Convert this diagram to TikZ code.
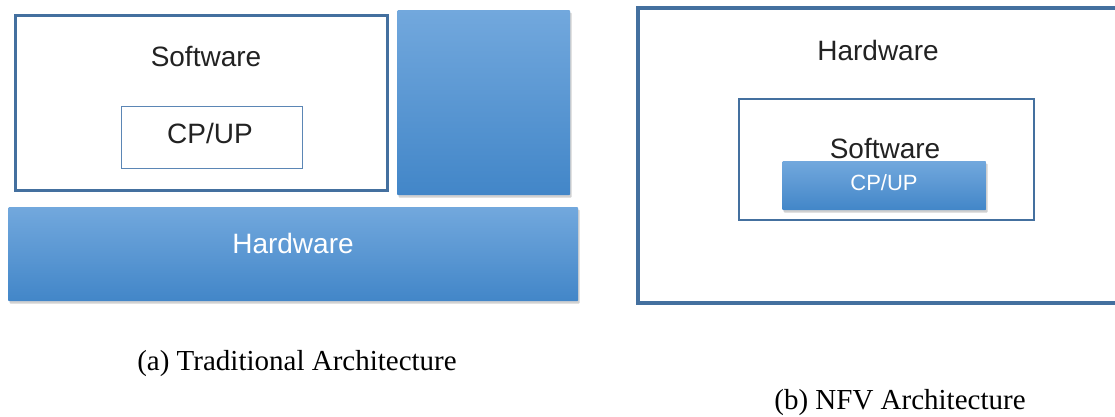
\documentclass[tikz,border=0pt]{standalone}
\usepackage{fontspec}
\setmainfont{Liberation Sans}
\newfontfamily\capfont{Liberation Serif}
\usetikzlibrary{shadows}
\definecolor{frame}{HTML}{44709F}
\definecolor{thinframe}{HTML}{5B86B5}
\definecolor{topblue}{HTML}{72A8DD}
\definecolor{botblue}{HTML}{4286C8}
\definecolor{txt}{HTML}{222222}
\tikzset{
  framebox/.style={draw=frame, line width=3pt, fill=white},
  thinbox/.style={draw=thinframe, line width=1pt, fill=white},
  bluebox/.style={top color=topblue, bottom color=botblue, draw=none, rounded corners=1pt,
     drop shadow={shadow xshift=1.5pt, shadow yshift=-2.5pt, opacity=0.3, fill=black!60}},
  lbl/.style={font=\fontsize{28}{30}\selectfont, text=txt},
  wlbl/.style={font=\fontsize{28}{30}\selectfont, text=white},
  captext/.style={font=\capfont\fontsize{29}{31}\selectfont, text=black}
}
\begin{document}
\begin{tikzpicture}[x=1pt,y=-1pt]
\useasboundingbox (0,0) rectangle (1115,416);
% (a) traditional
\node[framebox, minimum width=372pt, minimum height=175pt, anchor=north west] (sw) at (13.5,13.5) {};
\node[lbl] (swl) at (206,57) {Software};
\node[thinbox, minimum width=181pt, minimum height=62pt, anchor=north west] (cp) at (120.5,105.5) {};
\node[lbl] (cpl) at (210,133) {CP/UP};
\node[bluebox, minimum width=173pt, minimum height=185pt, anchor=north west] (col) at (397,10) {};
\node[bluebox, minimum width=570pt, minimum height=94pt, anchor=north west] (hw) at (8,207) {};
\node[wlbl] (hwl) at (293,243) {Hardware};
% (b) NFV
\draw[draw=frame, line width=4pt] (1118,8) -- (638,8) -- (638,303) -- (1118,303);
\node[lbl] (hw2) at (878,50) {Hardware};
\node[framebox, line width=2.5pt, minimum width=295pt, minimum height=121pt, anchor=north west] (sw2) at (737.5,97.5) {};
\node[lbl] (sw2l) at (885,148) {Software};
\node[bluebox, minimum width=204pt, minimum height=49pt, anchor=north west] (cp2) at (782,161) {};
\node[wlbl, font=\fontsize{22}{24}\selectfont] (cp2l) at (884,183) {CP/UP};
% captions
\node[captext] (ca) at (297,364) {(a) Traditional Architecture};
\node[captext] (cb) at (900,403) {(b) NFV Architecture};
\end{tikzpicture}
\end{document}
